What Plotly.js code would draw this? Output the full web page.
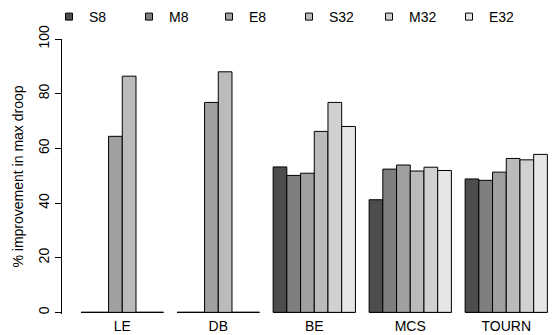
<!DOCTYPE html>
<html><head><meta charset="utf-8">
<script src="https://cdn.plot.ly/plotly-3.0.1.min.js"></script>
<style>html,body{margin:0;padding:0;background:#fff}#chart{width:553px;height:335px}</style>
</head><body><div id="chart"></div>
<script>
const categories = ['LE', 'DB', 'BE', 'MCS', 'TOURN'];
const seriesNames = ['S8', 'M8', 'E8', 'S32', 'M32', 'E32'];
const S8  = [0, 0, 53.2, 41.2, 48.8];
const M8  = [0, 0, 50.1, 52.4, 48.3];
const E8  = [64.4, 76.8, 50.9, 53.9, 51.3];
const S32 = [86.4, 88.0, 66.2, 51.7, 56.3];
const M32 = [0, 0, 76.8, 53.1, 55.8];
const E32 = [0, 0, 68.0, 51.9, 57.8];
const yTicks = [0, 20, 40, 60, 80, 100];
const yTitle = '% improvement in max droop';

const seriesValues = [S8, M8, E8, S32, M32, E32];
const colors = ['#4D4D4D', '#7F7F7F', '#A0A0A0', '#BBBBBB', '#D1D1D1', '#E6E6E6'];
const FONT = 'Liberation Sans, Arial, Helvetica, sans-serif';

const traces = [];
seriesNames.forEach((name, i) => {
  traces.push({
    type: 'bar', name: name, x: categories, y: seriesValues[i],
    marker: {color: colors[i], line: {color: '#000', width: 1}},
    showlegend: false, cliponaxis: false, hoverinfo: 'skip'
  });
});
seriesNames.forEach((name, i) => {
  traces.push({
    type: 'scatter', mode: 'markers', name: name, x: [null], y: [null],
    marker: {symbol: 'square', size: 7, color: colors[i], line: {color: '#000', width: 1}},
    showlegend: true, hoverinfo: 'skip'
  });
});

// zero-height bar outlines along the baseline of each group
const half = 3 / 7;
const shapes = categories.map((c, i) => ({
  type: 'line', xref: 'x', yref: 'y', x0: i - half, x1: i + half, y0: 0, y1: 0,
  line: {color: '#000', width: 1}, layer: 'below'
}));

const layout = {
  width: 553, height: 335,
  margin: {l: 62, r: 0, t: 39, b: 21},
  paper_bgcolor: '#fff', plot_bgcolor: '#fff',
  font: {family: FONT, size: 14, color: '#000'},
  barmode: 'group', bargap: 1 / 7, bargroupgap: 0,
  showlegend: true,
  legend: {
    orientation: 'h', xref: 'container', yref: 'container',
    x: 49 / 553, xanchor: 'left', y: 1 - 1 / 335, yanchor: 'top',
    entrywidth: 35, entrywidthmode: 'pixels',
    font: {family: FONT, size: 14, color: '#000'},
    bgcolor: 'rgba(0,0,0,0)', borderwidth: 0, itemclick: false
  },
  xaxis: {
    type: 'category', range: [-0.628, 4.487],
    showline: false, showgrid: false, zeroline: false, ticks: '',
    ticklabelstandoff: 2,
    tickfont: {family: FONT, size: 14, color: '#000'}, fixedrange: true
  },
  yaxis: {
    range: [-0.6, 100], tickvals: yTicks, ticktext: yTicks.map(String),
    showline: true, linecolor: '#000', linewidth: 1,
    ticks: 'outside', ticklen: 6, tickcolor: '#000', tickwidth: 1,
    tickangle: -90, showgrid: false, zeroline: false,
    tickfont: {family: FONT, size: 14, color: '#000'},
    title: {text: yTitle, font: {family: FONT, size: 14, color: '#000'}, standoff: 9},
    fixedrange: true
  },
  shapes: shapes
};

Plotly.newPlot('chart', traces, layout, {displayModeBar: false, staticPlot: true});
</script>
</body></html>
